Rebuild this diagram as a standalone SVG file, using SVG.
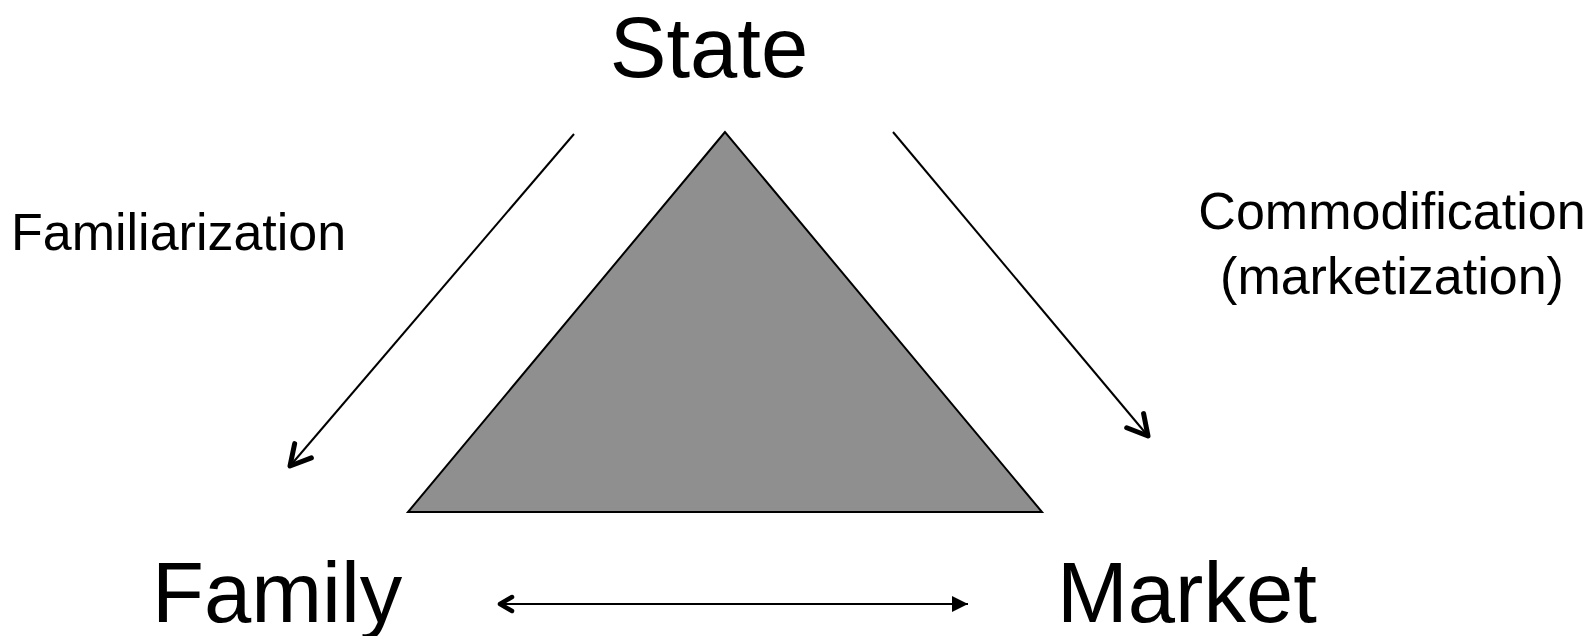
<svg xmlns="http://www.w3.org/2000/svg" width="1594" height="636" viewBox="0 0 1594 636">
<style>
.big{font-family:"Liberation Sans",Arial,sans-serif;font-size:85px;fill:#000}
.small{font-family:"Liberation Sans",Arial,sans-serif;font-size:52px;fill:#000}
.conn{stroke:#000;stroke-width:2;fill:none}
</style>
<defs>
<marker id="open" viewBox="0 0 36 36" refX="31" refY="18" markerWidth="36" markerHeight="36" markerUnits="userSpaceOnUse" orient="auto-start-reverse">
<path d="M11,7 L31,18 L11,29" fill="none" stroke="#000" stroke-width="5" stroke-linecap="round" stroke-linejoin="round"/>
</marker>
<marker id="openS" viewBox="0 0 24 24" refX="20" refY="12" markerWidth="24" markerHeight="24" markerUnits="userSpaceOnUse" orient="auto-start-reverse">
<path d="M8,5 L20,12 L8,19" fill="none" stroke="#000" stroke-width="4.5" stroke-linecap="round" stroke-linejoin="round"/>
</marker>
<marker id="filled" viewBox="0 0 24 24" refX="22" refY="12" markerWidth="24" markerHeight="24" markerUnits="userSpaceOnUse" orient="auto">
<path d="M6,4 L22,12 L6,20 Z" fill="#000"/>
</marker>
</defs>
<g id="triangle">
<polygon points="725,132 408,512 1042,512" fill="#8f8f8f" stroke="#000" stroke-width="2"/>
</g>
<g id="state"><text class="big" x="709" y="77" text-anchor="middle">State</text></g>
<g id="family"><text class="big" x="152" y="622">Family</text></g>
<g id="market"><text class="big" x="1057" y="622">Market</text></g>
<g id="familiarization"><text class="small" x="11" y="250">Familiarization</text></g>
<g id="commodification"><text class="small" x="1392" y="229" text-anchor="middle">Commodification</text><text class="small" x="1392" y="294" text-anchor="middle">(marketization)</text></g>
<g id="connectors">
<line class="conn" x1="574" y1="134" x2="290" y2="466" marker-end="url(#open)"/>
<line class="conn" x1="893" y1="132" x2="1148" y2="436" marker-end="url(#open)"/>
<line class="conn" x1="500" y1="604" x2="968" y2="604" marker-start="url(#openS)" marker-end="url(#filled)"/>
</g>
</svg>
